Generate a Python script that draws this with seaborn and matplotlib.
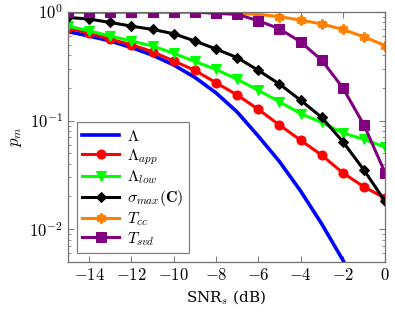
import numpy as np
import pandas as pd
import seaborn as sns
import matplotlib
matplotlib.use('Agg')
import matplotlib.pyplot as plt
from matplotlib.ticker import FixedLocator, FixedFormatter, LogLocator, NullFormatter

# SNR grid (dB)
snr = [-15, -14, -13, -12, -11, -10, -9, -8, -7, -6, -5, -4, -3, -2, -1, 0]

# detection probabilities
lam = [0.66, 0.60, 0.54, 0.47, 0.40, 0.325, 0.25, 0.18, 0.12, 0.072, 0.042, 0.0225, 0.0112, 0.0052, 0.0022, 0.0008]
lam_app = [0.71, 0.64, 0.56, 0.50, 0.43, 0.354, 0.29, 0.223, 0.172, 0.127, 0.091, 0.066, 0.048, 0.033, 0.0245, 0.0193]
lam_low = [0.74, 0.67, 0.60, 0.54, 0.486, 0.416, 0.35, 0.296, 0.24, 0.19, 0.149, 0.116, 0.096, 0.077, 0.067, 0.057]
sig_max = [0.89, 0.86, 0.80, 0.74, 0.69, 0.63, 0.54, 0.456, 0.38, 0.29, 0.217, 0.154, 0.107, 0.064, 0.035, 0.018]
t_cc = [1.0, 1.0, 1.0, 1.0, 1.0, 1.0, 1.0, 0.99, 0.97, 0.95, 0.905, 0.84, 0.775, 0.69, 0.59, 0.49]
t_svd = [1.0, 1.0, 1.0, 1.0, 1.0, 1.0, 1.0, 0.97, 0.95, 0.83, 0.70, 0.53, 0.36, 0.20, 0.091, 0.033]

labels = [r'$\Lambda$', r'$\Lambda_{app}$', r'$\Lambda_{low}$',
          r'$\sigma_{max}(\mathbf{C})$', r'$T_{cc}$', r'$T_{svd}$']

plt.rcParams['mathtext.fontset'] = 'cm'
plt.rcParams['font.family'] = 'DejaVu Serif'

fig = plt.figure(figsize=(3.95, 3.14), dpi=100)
ax = fig.add_axes([0.172, 0.166, 0.803, 0.796])

series = [
    (lam, 'blue', None, 2.6),
    (lam_app, 'red', 'o', 2.2),
    (lam_low, '#00ff00', 'v', 2.2),
    (sig_max, 'black', 'D', 2.2),
    (t_cc, '#ff8000', (6, 2, 0), 2.2),
    (t_svd, 'purple', 's', 2.2),
]
for (vals, col, mk, lw), lab in zip(series, labels):
    kw = dict(marker=mk, markersize=6.5, markeredgecolor=col, markerfacecolor=col)
    if mk == 'D':
        kw['markersize'] = 4.8
    if mk == (6, 2, 0):
        kw['markeredgewidth'] = 2.2
        kw['markersize'] = 7
    if mk is None:
        kw = {}
    sns.lineplot(x=snr, y=vals, ax=ax, color=col, lw=lw, label=lab, **kw)

ax.set_yscale('log')
ax.set_xlim(-15, 0)
ax.set_ylim(0.005, 1.0)

ax.xaxis.set_major_locator(FixedLocator([-14, -12, -10, -8, -6, -4, -2, 0]))
ax.xaxis.set_major_formatter(FixedFormatter([r'$-14$', r'$-12$', r'$-10$', r'$-8$', r'$-6$', r'$-4$', r'$-2$', r'$0$']))
ax.yaxis.set_major_locator(FixedLocator([0.01, 0.1, 1.0]))
ax.yaxis.set_major_formatter(FixedFormatter([r'$10^{-2}$', r'$10^{-1}$', r'$10^{0}$']))
ax.yaxis.set_minor_locator(LogLocator(base=10, subs=np.arange(2, 10)))
ax.yaxis.set_minor_formatter(NullFormatter())

ax.tick_params(which='both', direction='in', top=True, right=True, color='#808080', labelsize=12)
ax.tick_params(which='major', length=4)
ax.tick_params(which='minor', length=2.5)
for s in ax.spines.values():
    s.set_color('#707070')
    s.set_linewidth(0.9)

ax.set_xlabel(r'SNR$_s$ (dB)', fontsize=11)
ax.set_ylabel(r'$p_m$', fontsize=12)

leg = ax.legend(loc='lower left', fontsize=11.5, frameon=True, fancybox=False,
                handlelength=2.3, borderpad=0.35, labelspacing=0.12,
                borderaxespad=0.55, handletextpad=0.5)
leg.get_frame().set_edgecolor('#606060')
leg.get_frame().set_linewidth(0.9)

fig.savefig('out.png', dpi=100)
